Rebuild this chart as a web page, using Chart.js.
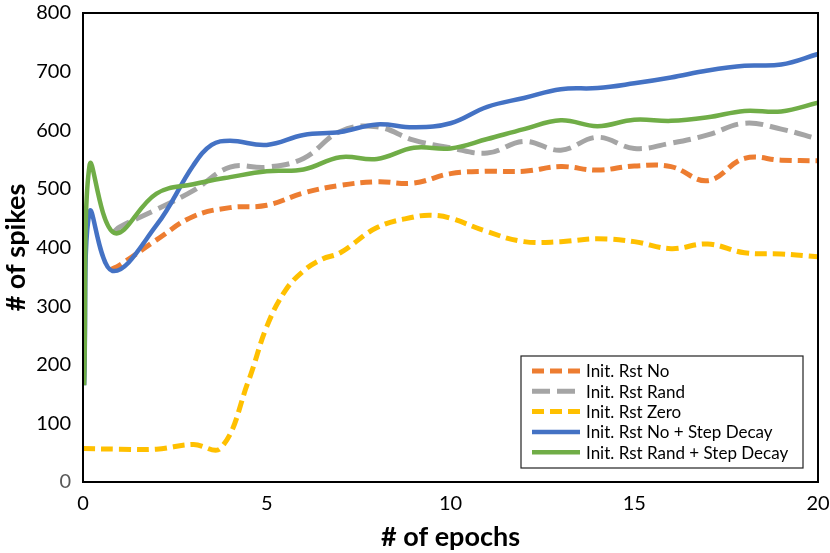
<!DOCTYPE html>
<html>
<head>
<meta charset="utf-8">
<script src="https://cdn.jsdelivr.net/npm/chart.js@4"></script>
<style>
  html, body { margin: 0; padding: 0; background: #fff; }
  #wrap { width: 830px; height: 553px; }
</style>
</head>
<body>
<div id="wrap"><canvas id="spikes"></canvas></div>
<script>
// values (epoch, # of spikes)
const noEpochs = [0.75, 1, 2, 3, 4, 5, 6, 7, 8, 9, 10, 11, 12, 13, 14, 15, 16, 17, 18, 19, 20];
const noSpikes = [362, 370, 413, 453, 468, 472, 493, 506, 512, 510, 526, 530, 530, 538, 532, 539, 538, 514, 552, 549, 548];

const randEpochs = [0.85, 1, 2, 3, 4, 5, 6, 7, 8, 9, 10, 11, 12, 13, 14, 15, 16, 17, 18, 19, 20];
const randSpikes = [427, 435, 465, 497, 537, 537, 552, 598, 606, 583, 570, 561, 581, 566, 588, 569, 578, 592, 612, 602, 585];

const zeroEpochs = [0, 1, 2, 3, 3.75, 4.5, 5, 5.5, 6, 6.5, 7, 8, 9, 9.5, 10, 11, 12, 13, 14, 15, 16, 17, 18, 19, 20];
const zeroSpikes = [57, 56, 56, 64, 58, 172, 265, 326, 360, 380, 391, 434, 452, 455, 450, 427, 410, 410, 415, 410, 398, 406, 391, 389, 384];

const noDecayEpochs = [0.03, 0.18, 0.8, 2, 3, 3.5, 4, 5, 6, 7, 8, 9, 10, 11, 12, 13, 14, 15, 16, 17, 18, 19, 20];
const noDecaySpikes = [165, 461, 360, 438, 540, 575, 582, 575, 592, 597, 610, 605, 612, 640, 655, 670, 672, 680, 690, 702, 710, 712, 730];

const randDecayEpochs = [0.03, 0.18, 0.85, 2, 3, 4, 5, 6, 7, 8, 9, 10, 11, 12, 13, 14, 15, 16, 17, 18, 19, 20];
const randDecaySpikes = [165, 541, 425, 492, 508, 520, 530, 533, 554, 551, 570, 569, 585, 602, 617, 607, 618, 616, 622, 633, 632, 647];

const seriesNames = ['Init. Rst No', 'Init. Rst Rand', 'Init. Rst Zero', 'Init. Rst No + Step Decay', 'Init. Rst Rand + Step Decay'];

function pairs(xs, ys) {
    return xs.map((x, i) => ({ x: x, y: ys[i] }));
}

const FONT = 'Lato, Carlito, "Liberation Sans", sans-serif';

function line(label, data, color, dash, order) {
    return {
        label: label,
        data: data,
        borderColor: color,
        backgroundColor: color,
        borderWidth: dash.length ? 5 : 4.5,
        borderDash: dash,
        pointRadius: 0,
        fill: false,
        tension: 0.4,
        order: order
    };
}

// frame round the plot and the boxed legend in the lower right
const framePlugin = {
    id: 'frame',
    afterDraw(chart) {
        const ctx = chart.ctx;
        const a = chart.chartArea;
        ctx.save();
        ctx.strokeStyle = '#000';
        ctx.lineWidth = 2;
        ctx.strokeRect(a.left, a.top, a.right - a.left, a.bottom - a.top);

        // legend box
        const bx = 521, by = 356, bw = 282, bh = 112;
        ctx.fillStyle = '#fff';
        ctx.fillRect(bx, by, bw, bh);
        ctx.lineWidth = 1.2;
        ctx.strokeStyle = '#222';
        ctx.strokeRect(bx, by, bw, bh);

        ctx.font = '17px ' + FONT;
        ctx.textBaseline = 'middle';
        chart.data.datasets.forEach((ds, i) => {
            const y = by + 15 + i * 20.3;
            ctx.beginPath();
            ctx.strokeStyle = ds.borderColor;
            ctx.lineWidth = ds.borderWidth;
            ctx.setLineDash(ds.borderDash);
            ctx.moveTo(bx + 11, y);
            ctx.lineTo(bx + 59, y);
            ctx.stroke();
            ctx.setLineDash([]);
            ctx.fillStyle = '#000';
            ctx.fillText(ds.label, bx + 65, y + 1);
        });
        ctx.restore();
    }
};

const ctx = document.getElementById('spikes').getContext('2d');

new Chart(ctx, {
    type: 'line',
    data: {
        datasets: [
            line(seriesNames[0], pairs(noEpochs, noSpikes), '#ED7D31', [12, 6], 5),
            line(seriesNames[1], pairs(randEpochs, randSpikes), '#A5A5A5', [18, 7], 4),
            line(seriesNames[2], pairs(zeroEpochs, zeroSpikes), '#FFC000', [12, 6], 3),
            line(seriesNames[3], pairs(noDecayEpochs, noDecaySpikes), '#4472C4', [], 2),
            line(seriesNames[4], pairs(randDecayEpochs, randDecaySpikes), '#70AD47', [], 1)
        ]
    },
    options: {
        responsive: true,
        maintainAspectRatio: false,
        animation: false,
        layout: { padding: { top: 13, right: 12, left: 0, bottom: 0 } },
        plugins: {
            legend: { display: false },
            tooltip: { enabled: false }
        },
        scales: {
            x: {
                type: 'linear',
                min: 0,
                max: 20,
                grid: { display: false, drawTicks: false },
                border: { display: false },
                ticks: { stepSize: 5, padding: 10, color: '#000', font: { family: FONT, size: 20 } },
                title: {
                    display: true,
                    text: '# of epochs',
                    color: '#000',
                    padding: { top: 0, bottom: 0 },
                    font: { family: FONT, size: 27, weight: 'bold' }
                },
                afterFit(scale) {
                    scale.height = 71;
                    scale.paddingLeft = 0;
                    scale.paddingRight = 0;
                }
            },
            y: {
                min: 0,
                max: 800,
                grid: { display: false, drawTicks: false },
                border: { display: false },
                ticks: {
                    stepSize: 100,
                    padding: 12,
                    color: (c) => c.tick && c.tick.value === 0 ? '#595959' : '#000',
                    font: { family: FONT, size: 20 }
                },
                title: {
                    display: true,
                    text: '# of spikes',
                    color: '#000',
                    padding: { top: 0, bottom: 2 },
                    font: { family: FONT, size: 27, weight: 'bold' }
                },
                afterFit(scale) {
                    scale.width = 83;
                    scale.paddingTop = 0;
                    scale.paddingBottom = 0;
                }
            }
        }
    },
    plugins: [framePlugin]
});
</script>
</body>
</html>
